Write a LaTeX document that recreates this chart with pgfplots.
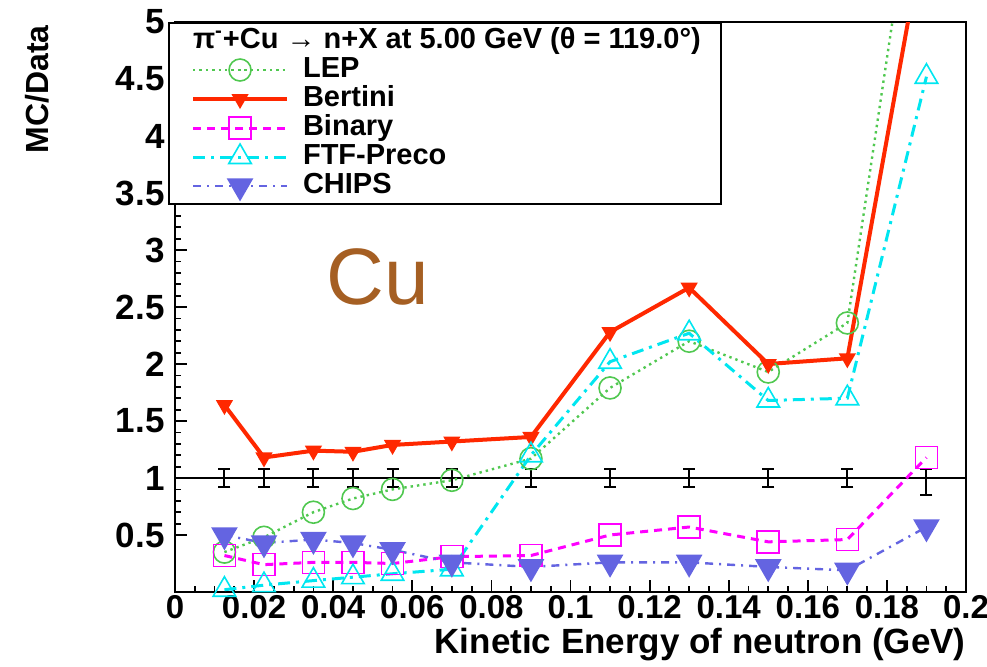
\documentclass[border=0pt]{standalone}
\usepackage{pgfplots}
\pgfplotsset{compat=1.18}
\usepackage{pgfplotstable}
\usepackage{fontspec}
\setmainfont{Liberation Sans}
\definecolor{lepgreen}{RGB}{80,200,80}
\definecolor{bertred}{RGB}{255,40,0}
\definecolor{binmag}{RGB}{255,0,255}
\definecolor{ftfcyan}{RGB}{0,230,240}
\definecolor{chipsblue}{RGB}{100,100,225}
\definecolor{cubrown}{RGB}{165,95,35}

\pgfplotstableread{
x y
0.0125 0.35
0.0225 0.48
0.035 0.70
0.045 0.82
0.055 0.90
0.07 0.98
0.09 1.17
0.11 1.79
0.13 2.20
0.15 1.93
0.17 2.36
0.19 7.00
}\lep
\pgfplotstableread{
x y
0.0125 1.64
0.0225 1.18
0.035 1.24
0.045 1.23
0.055 1.29
0.07 1.32
0.09 1.36
0.11 2.28
0.13 2.67
0.15 2.00
0.17 2.05
0.19 5.90
}\bertini
\pgfplotstableread{
x y
0.0125 0.32
0.0225 0.24
0.035 0.26
0.045 0.26
0.055 0.25
0.07 0.31
0.09 0.32
0.11 0.50
0.13 0.57
0.15 0.44
0.17 0.46
0.19 1.18
}\binary
\pgfplotstableread{
x y
0.0125 0.02
0.0225 0.06
0.035 0.10
0.045 0.13
0.055 0.16
0.07 0.20
0.09 1.20
0.11 2.02
0.13 2.27
0.15 1.68
0.17 1.70
0.19 4.52
}\ftf
\pgfplotstableread{
x y
0.0125 0.50
0.0225 0.43
0.035 0.46
0.045 0.43
0.055 0.37
0.07 0.26
0.09 0.22
0.11 0.26
0.13 0.26
0.15 0.22
0.17 0.19
0.19 0.57
}\chips
\pgfplotstableread{
x y ep em
0.0125 1 0.08 0.08
0.0225 1 0.08 0.08
0.035 1 0.08 0.08
0.045 1 0.08 0.08
0.055 1 0.08 0.08
0.07 1 0.08 0.08
0.09 1 0.08 0.08
0.11 1 0.08 0.08
0.13 1 0.08 0.08
0.15 1 0.08 0.08
0.17 1 0.08 0.08
0.19 1 0.08 0.15
}\data

\begin{document}
\begin{tikzpicture}
\useasboundingbox (0,0) rectangle (493.5pt,333pt);
\begin{axis}[
  name=ax,
  at={(87.5pt,37pt)}, anchor=south west,
  scale only axis, width=395.5pt, height=285pt,
  xmin=0, xmax=0.2, ymin=0, ymax=5,
  axis line style={black, line width=1pt},
  tick align=inside, xtick pos=bottom, ytick pos=left,
  xtick={0,0.02,0.04,0.06,0.08,0.1,0.12,0.14,0.16,0.18,0.2},
  xticklabels={0,0.02,0.04,0.06,0.08,0.1,0.12,0.14,0.16,0.18,0.2},
  ytick={0.5,1,1.5,2,2.5,3,3.5,4,4.5,5},
  yticklabels={0.5,1,1.5,2,2.5,3,3.5,4,4.5,5},
  minor x tick num=3, minor y tick num=4,
  major tick length=6pt, minor tick length=3pt,
  every tick/.style={black, line width=0.9pt},
  xticklabel style={font=\fontsize{16.5}{16.5}\selectfont\bfseries, inner sep=0pt, anchor=north, yshift=-1.5pt},
  yticklabel style={font=\fontsize{17.5}{17.5}\selectfont\bfseries, inner sep=0pt, anchor=east, xshift=-5pt},
  legend image code/.code={
    \path[draw=none, fill=none] (0pt,0pt) -- (57pt,0pt);
    \draw[mark repeat=2, mark phase=2, #1] plot coordinates {(10pt,0pt) (33.5pt,0pt) (57pt,0pt)};
  },
  legend cell align=left,
  legend style={at={(axis description cs:-0.0088,1)}, anchor=north west,
    draw=black, line width=1pt, fill=white, inner sep=2pt,
    row sep=0.5pt, column sep=7pt,
    font=\fontsize{14.5}{14.5}\selectfont\bfseries,
    nodes={inner sep=0pt, text height=10.5pt, text depth=3.5pt}},
]
\addlegendimage{empty legend}
\addlegendentry{\hspace*{-55pt}π\textsuperscript{-}+Cu → n+X at 5.00 GeV (θ = 119.0°)\hspace*{8pt}}

\addplot[forget plot, black, line width=1pt] coordinates {(0,1) (0.2,1)};
\addplot[forget plot, black, only marks, mark=*, mark size=0.01pt,
  error bars/.cd, y dir=both, y explicit, error mark=-,
  error mark options={rotate=90, black, mark size=3pt, line width=1pt},
  error bar style={black, line width=1pt}]
  table[x=x, y=y, y error plus=ep, y error minus=em] {\data};

\addplot[color=lepgreen, line width=1.2pt, dash pattern=on 1.2pt off 2pt,
  mark=o, mark size=5.5pt, mark options={solid, line width=0.8pt}] table {\lep};
\addlegendentry{LEP}
\addplot[color=bertred, line width=2pt, solid,
  mark=triangle*, mark size=3pt, mark options={solid, rotate=180}] table {\bertini};
\addlegendentry{Bertini}
\addplot[color=binmag, line width=1.5pt, dash pattern=on 4pt off 3pt,
  mark=square, mark size=5.5pt, mark options={solid, line width=0.8pt}] table {\binary};
\addlegendentry{Binary}
\addplot[color=ftfcyan, line width=1.5pt, dash pattern=on 6pt off 3pt on 1.5pt off 3pt,
  mark=triangle, mark size=6.5pt, mark options={solid, line width=0.8pt}] table {\ftf};
\addlegendentry{FTF-Preco}
\addplot[color=chipsblue, line width=1.2pt, dash pattern=on 4pt off 3pt on 1pt off 3pt,
  mark=triangle*, mark size=6.5pt, mark options={solid, rotate=180}] table {\chips};
\addlegendentry{CHIPS}

\node[font=\fontsize{40}{40}\selectfont, text=cubrown, anchor=base] at (axis cs:0.0512,2.52) {Cu};
\end{axis}
\node[font=\fontsize{16}{16}\selectfont\bfseries, rotate=90, anchor=east, inner sep=0pt] at ([xshift=-69pt,yshift=-1.5pt]ax.north west) {MC/Data};
\node[font=\fontsize{17.5}{17.5}\selectfont\bfseries, anchor=base east, inner sep=0pt] at ([yshift=-30.5pt]ax.south east) {Kinetic Energy of neutron (GeV)};
\end{tikzpicture}
\end{document}
